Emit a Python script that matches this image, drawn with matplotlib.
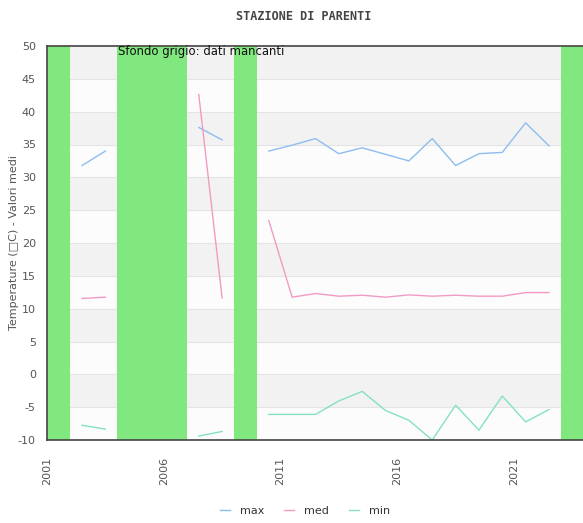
import numpy as np
import matplotlib
matplotlib.use("Agg")
import matplotlib.pyplot as plt

# data (NaN = missing year)
years = list(range(2001, 2024))
nan = np.nan
t_max = [nan, 31.8, 34.0, nan, nan, nan, 37.6, 35.7, nan, 34.0, 34.9, 35.9,
         33.6, 34.5, 33.5, 32.5, 35.9, 31.8, 33.6, 33.8, 38.3, 34.8, nan]
t_med = [nan, 11.55, 11.75, nan, nan, nan, 42.6, 11.65, nan, 23.4, 11.75, 12.3,
         11.9, 12.05, 11.75, 12.1, 11.9, 12.05, 11.9, 11.9, 12.45, 12.45, nan]
t_min = [nan, -7.75, -8.35, nan, nan, nan, -9.4, -8.7, nan, -6.1, -6.1, -6.1,
         -4.05, -2.6, -5.5, -7.0, -10.0, -4.7, -8.5, -3.3, -7.25, -5.35, nan]
missing_years = [2001, 2004, 2005, 2006, 2009, 2023]
tick_years = [2001, 2006, 2011, 2016, 2021]

plt.rcParams['font.family'] = 'DejaVu Sans'
plt.rcParams['axes.unicode_minus'] = False

fig = plt.figure(figsize=(5.83, 5.23), dpi=100)
ax = fig.add_axes([47/583, 83/523, 537/583, 394/523])

# striped background
ax.set_facecolor('#fcfcfc')
for lo in range(-5, 50, 10):
    ax.axhspan(lo, lo + 5, color='#f2f2f2', zorder=0, lw=0)
for v in range(-5, 50, 5):
    ax.axhline(v, color='#e4e4e4', lw=0.8, zorder=0.5)

# missing data bands
for y in missing_years:
    ax.axvspan(y - 0.5, y + 0.5, color='#80e87e', lw=0, zorder=1)

ax.plot(years, t_max, color='#8dbdf0', lw=1.0, zorder=2, label='max')
ax.plot(years, t_med, color='#f29ac4', lw=1.0, zorder=2, label='med')
ax.plot(years, t_min, color='#84e2bf', lw=1.0, zorder=2, label='min')

ax.set_xlim(years[0] - 0.5, years[-1] + 0.5)
ax.set_ylim(-10, 50)
ax.set_yticks(range(-10, 51, 5))
ax.set_xticks([y - 0.5 for y in tick_years])
ax.set_xticklabels([str(y) for y in tick_years], rotation=90)
ax.tick_params(length=0, labelsize=8, colors='#555555')
ax.tick_params(axis='x', pad=12)
ax.tick_params(axis='y', pad=8)

for side in ['left', 'bottom', 'top']:
    ax.spines[side].set_color('#444444')
    ax.spines[side].set_linewidth(1.2)
ax.spines['right'].set_visible(False)

ax.set_ylabel('Temperature (\u25a1C) - Valori medi', fontsize=8, color='#555555')
ax.yaxis.set_label_coords(-0.053, 0.5)

ax.text(0.132, 0.985, 'Sfondo grigio: dati mancanti', transform=ax.transAxes,
        fontsize=8.4, color='#111111', va='center', ha='left', zorder=3)

fig.text(304/583, 1 - 16/523, 'STAZIONE DI PARENTI', ha='center', va='center',
         fontfamily='DejaVu Sans Mono', fontweight='bold', fontsize=8.5,
         color='#444444')

fig.legend(loc='center', bbox_to_anchor=(305/583, 1 - 511/523), ncol=3,
           frameon=False, fontsize=8, handlelength=0.9, handletextpad=0.9,
           columnspacing=1.8, labelcolor='#333333')

fig.savefig('out.png', dpi=100)
